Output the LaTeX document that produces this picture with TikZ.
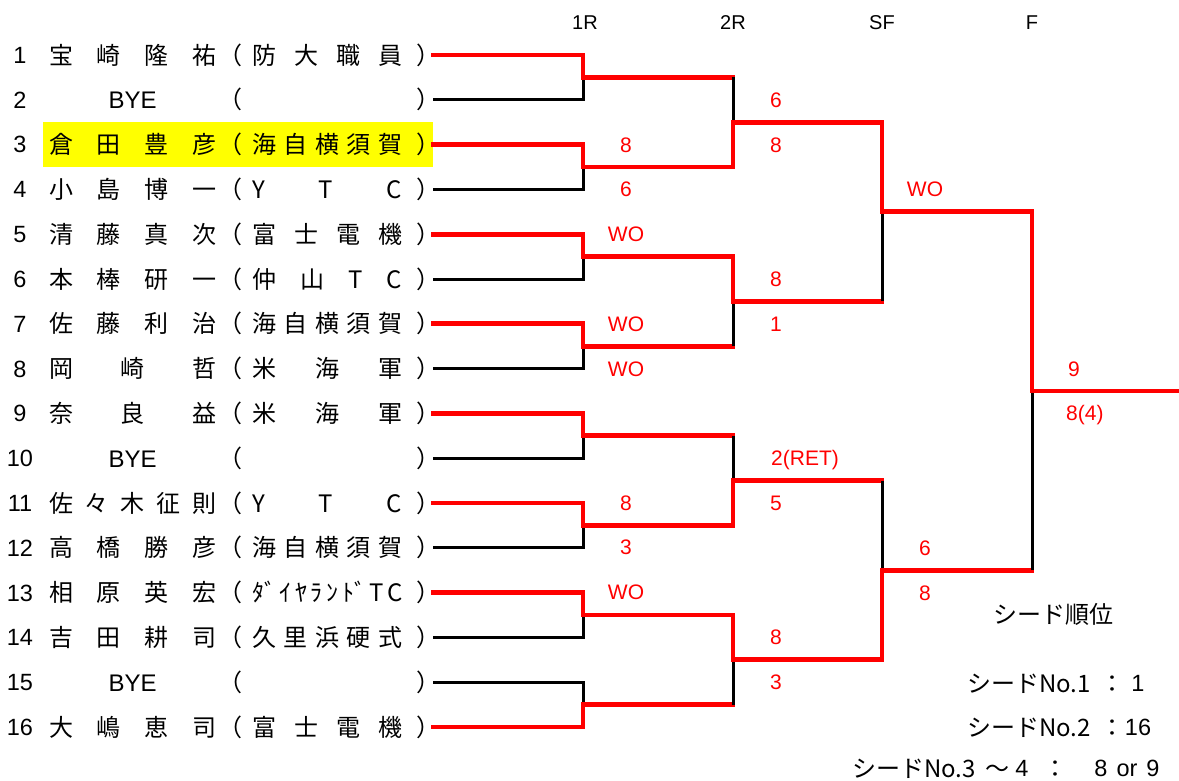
\documentclass[tikz,border=0pt]{standalone}
\usepackage{fontspec}
\setmainfont{Liberation Sans}
\newfontfamily\jpfont{Noto Sans CJK JP}
\usetikzlibrary{positioning}

\definecolor{winred}{RGB}{255,0,0}
\definecolor{markyellow}{RGB}{255,255,0}

\tikzset{
  node distance=2pt,
  won/.style={draw=winred, line width=4.7pt, line cap=rect, line join=miter},
  lost/.style={draw=black, line width=3pt},
  lat/.style={inner sep=0pt, text height=16.8pt, text depth=0pt, font=\fontsize{23.5}{24}\selectfont},
  jp/.style={inner sep=0pt, text height=18.2pt, text depth=0pt, font=\fontsize{24}{24}\selectfont\jpfont},
  score/.style={inner sep=0pt, text height=15pt, text depth=0pt, text=winred, font=\fontsize{21}{21}\selectfont},
  rndhead/.style={inner sep=0pt, text height=14.3pt, text depth=0pt, font=\fontsize{20}{20}\selectfont},
}

\begin{document}
\begin{tikzpicture}[x=1pt, y=-1pt]
  \useasboundingbox (0,0) rectangle (1179,781);

  % highlighted entry
  \fill[markyellow] (43,122) rectangle (433,167);

  % round headers
  \node[rndhead] (h1) at (585,22) {1R};
  \node[rndhead] (h2) at (733,22) {2R};
  \node[rndhead] (h3) at (882,22) {SF};
  \node[rndhead] (h4) at (1032,22) {F};

  % entries
  \foreach \i/\nm/\cl in {1/宝 崎 隆 祐/防 大 職 員,
      2/{\hfill\rmfamily BYE\hfill}/{},
      3/倉 田 豊 彦/海 自 横 須 賀,
      4/小 島 博 一/Y T C,
      5/清 藤 真 次/富 士 電 機,
      6/本 棒 研 一/仲 山 T C,
      7/佐 藤 利 治/海 自 横 須 賀,
      8/岡 崎 哲/米 海 軍,
      9/奈 良 益/米 海 軍,
      10/{\hfill\rmfamily BYE\hfill}/{},
      11/佐 々 木 征 則/Y T C,
      12/高 橋 勝 彦/海 自 横 須 賀,
      13/相 原 英 宏/ﾀﾞ ｲ ﾔ ﾗ ﾝ ﾄﾞ T C,
      14/吉 田 耕 司/久 里 浜 硬 式,
      15/{\hfill\rmfamily BYE\hfill}/{},
      16/大 嶋 恵 司/富 士 電 機} {
    \pgfmathsetmacro\yy{55+(\i-1)*44.8}
    \node[lat] (no\i) at (20,\yy) {\i};
    \node[jp, anchor=west] (nm\i) at (49,\yy) {\makebox[167pt][s]{\nm}};
    \node[jp, right=2pt of nm\i] (lp\i) {（};
    \node[jp, anchor=west] (cl\i) at (252,\yy) {\makebox[150pt][s]{\cl}};
    \node[jp, anchor=west] (rp\i) at (416,\yy) {）};
    \coordinate (r\i) at (433,\yy);
  }

  % junctions
  \foreach \j in {1,...,8} \coordinate (a\j) at (583,{77.4+(\j-1)*89.6});
  \foreach \k in {1,...,4} \coordinate (b\k) at (733,{122.2+(\k-1)*179.2});
  \coordinate (c1) at (882,211.8);
  \coordinate (c2) at (882,570.2);
  \coordinate (d1) at (1032,391);
  \coordinate (champ) at (1179,391);

  % first round
  \foreach \w/\l/\j in {1/2/a1,3/4/a2,5/6/a3,7/8/a4,9/10/a5,11/12/a6,13/14/a7,16/15/a8} {
    \draw[lost] (r\l) -| (\j);
    \draw[won] (r\w) -| (\j);
  }
  % later rounds
  \foreach \w/\l/\j in {a2/a1/b1,a3/a4/b2,a6/a5/b3,a7/a8/b4,b1/b2/c1,b4/b3/c2,c1/c2/d1} {
    \draw[won] (\l) -- (\l -| \j);
    \draw[lost] (\l -| \j) -- (\j);
    \draw[won] (\w) -| (\j);
  }
  \draw[won] (d1) -- (champ);

  % scores
  \foreach \x/\y/\s [count=\n] in {626/144.6/8, 626/189.4/6, 626/234.2/WO,
      626/323.8/WO, 626/368.6/WO, 626/502.6/8, 626/547.4/3, 626/592.2/WO,
      776/99.8/6, 776/144.6/8, 776/279/8, 776/323.8/1, 776/503/5,
      776/637.4/8, 776/682.2/3, 925/189.4/WO, 925/547.8/6, 925/592.6/8,
      1074/368.6/9}
    \node[score] (sc\n) at (\x,\y) {\s};
  \node[score, anchor=west] (ret) at (771,458.2) {2(RET)};
  \node[score, anchor=west] (fin) at (1066,413.4) {8(4)};

  % seeding
  \node[jp] (seedttl) at (1053,614) {シード順位};
  \node[jp, anchor=west] (seed1) at (967,683) {シードNo.1};
  \node[jp] (colon1) at (1112,683) {：};
  \node[lat] (seedv1) at (1138,683) {1};
  \node[jp, anchor=west] (seed2) at (967,727) {シードNo.2};
  \node[jp] (colon2) at (1112,727) {：};
  \node[lat] (seedv2) at (1138,727) {16};
  \node[jp, anchor=west] (seed3) at (852,768) {シードNo.3};
  \node[jp] (tilde3) at (997,768) {～};
  \node[lat] (seedn4) at (1022,768) {4};
  \node[jp] (colon3) at (1055,768) {：};
  \node[lat] (seedv3) at (1127,768) {8\hspace{9pt}or\hspace{9pt}9};
\end{tikzpicture}
\end{document}
